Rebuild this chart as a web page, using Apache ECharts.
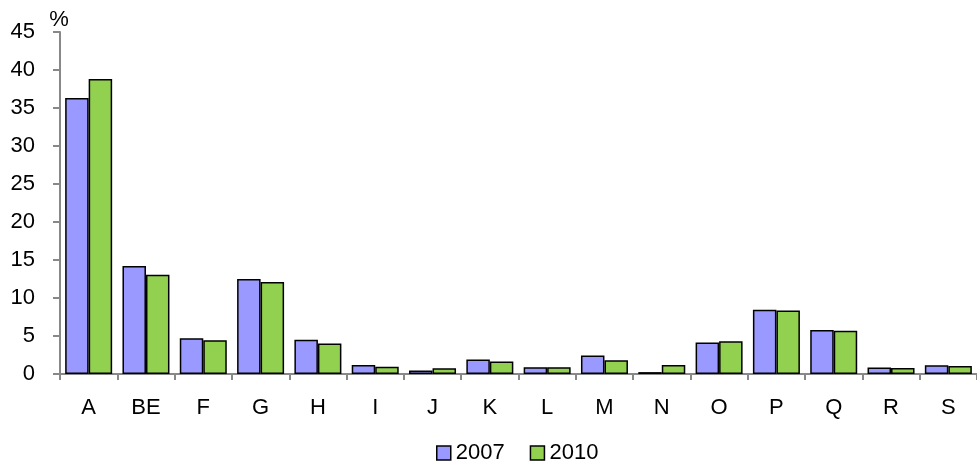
<!DOCTYPE html>
<html><head><meta charset="utf-8">
<script src="https://cdn.jsdelivr.net/npm/echarts@6/dist/echarts.min.js"></script>
<style>html,body{margin:0;padding:0;background:#fff}#c{width:977px;height:462px}</style>
</head><body><div id="c"></div>
<script>
const categories = ['A','BE','F','G','H','I','J','K','L','M','N','O','P','Q','R','S'];
const values2007 = [36.3,14.2,4.7,12.5,4.5,1.2,0.45,1.9,0.9,2.45,0.25,4.15,8.45,5.8,0.85,1.15];
const values2010 = [38.8,13.05,4.45,12.1,4.0,0.95,0.75,1.65,0.9,1.8,1.2,4.3,8.35,5.7,0.8,1.05];
const yTicks = [0,5,10,15,20,25,30,35,40,45];
const seriesNames = ['2007','2010'];

const font = '"Liberation Sans", Arial, sans-serif';
const chart = echarts.init(document.getElementById('c'));
chart.setOption({
  animation: false,
  grid: {left: 60, right: 0, top: 32, bottom: 88, containLabel: false},
  legend: {
    top: 437, left: 431, itemWidth: 14, itemHeight: 14, itemGap: 25,
    icon: 'rect',
    itemStyle: {borderColor: '#000', borderWidth: 1.5},
    textStyle: {fontFamily: font, fontSize: 22, color: '#000', padding: [0,0,0,0]},
    data: seriesNames
  },
  xAxis: {
    type: 'category', data: categories,
    axisLine: {lineStyle: {color: '#888', width: 2}},
    axisTick: {show: true, length: 6, lineStyle: {color: '#888', width: 2}},
    axisLabel: {fontFamily: font, fontSize: 22, color: '#000', margin: 23}
  },
  yAxis: {
    type: 'value', min: yTicks[0], max: yTicks[yTicks.length-1], interval: 5,
    name: '%', nameGap: 1, nameLocation: 'end',
    nameTextStyle: {fontFamily: font, fontSize: 22, color: '#000', align: 'center', padding: [0,0,0,-2]},
    splitLine: {show: false},
    axisLine: {show: true, lineStyle: {color: '#888', width: 2}},
    axisTick: {show: true, inside: false, length: 7, lineStyle: {color: '#888', width: 2}},
    axisLabel: {fontFamily: font, fontSize: 22, color: '#000', margin: 25}
  },
  series: [
    {name: seriesNames[0], type: 'bar', data: values2007, barGap: '0%', barCategoryGap: '18%',
     itemStyle: {color: '#9999FF', borderColor: '#000', borderWidth: 1.5}},
    {name: seriesNames[1], type: 'bar', data: values2010,
     itemStyle: {color: '#92D050', borderColor: '#000', borderWidth: 1.5}}
  ]
});
</script></body></html>
